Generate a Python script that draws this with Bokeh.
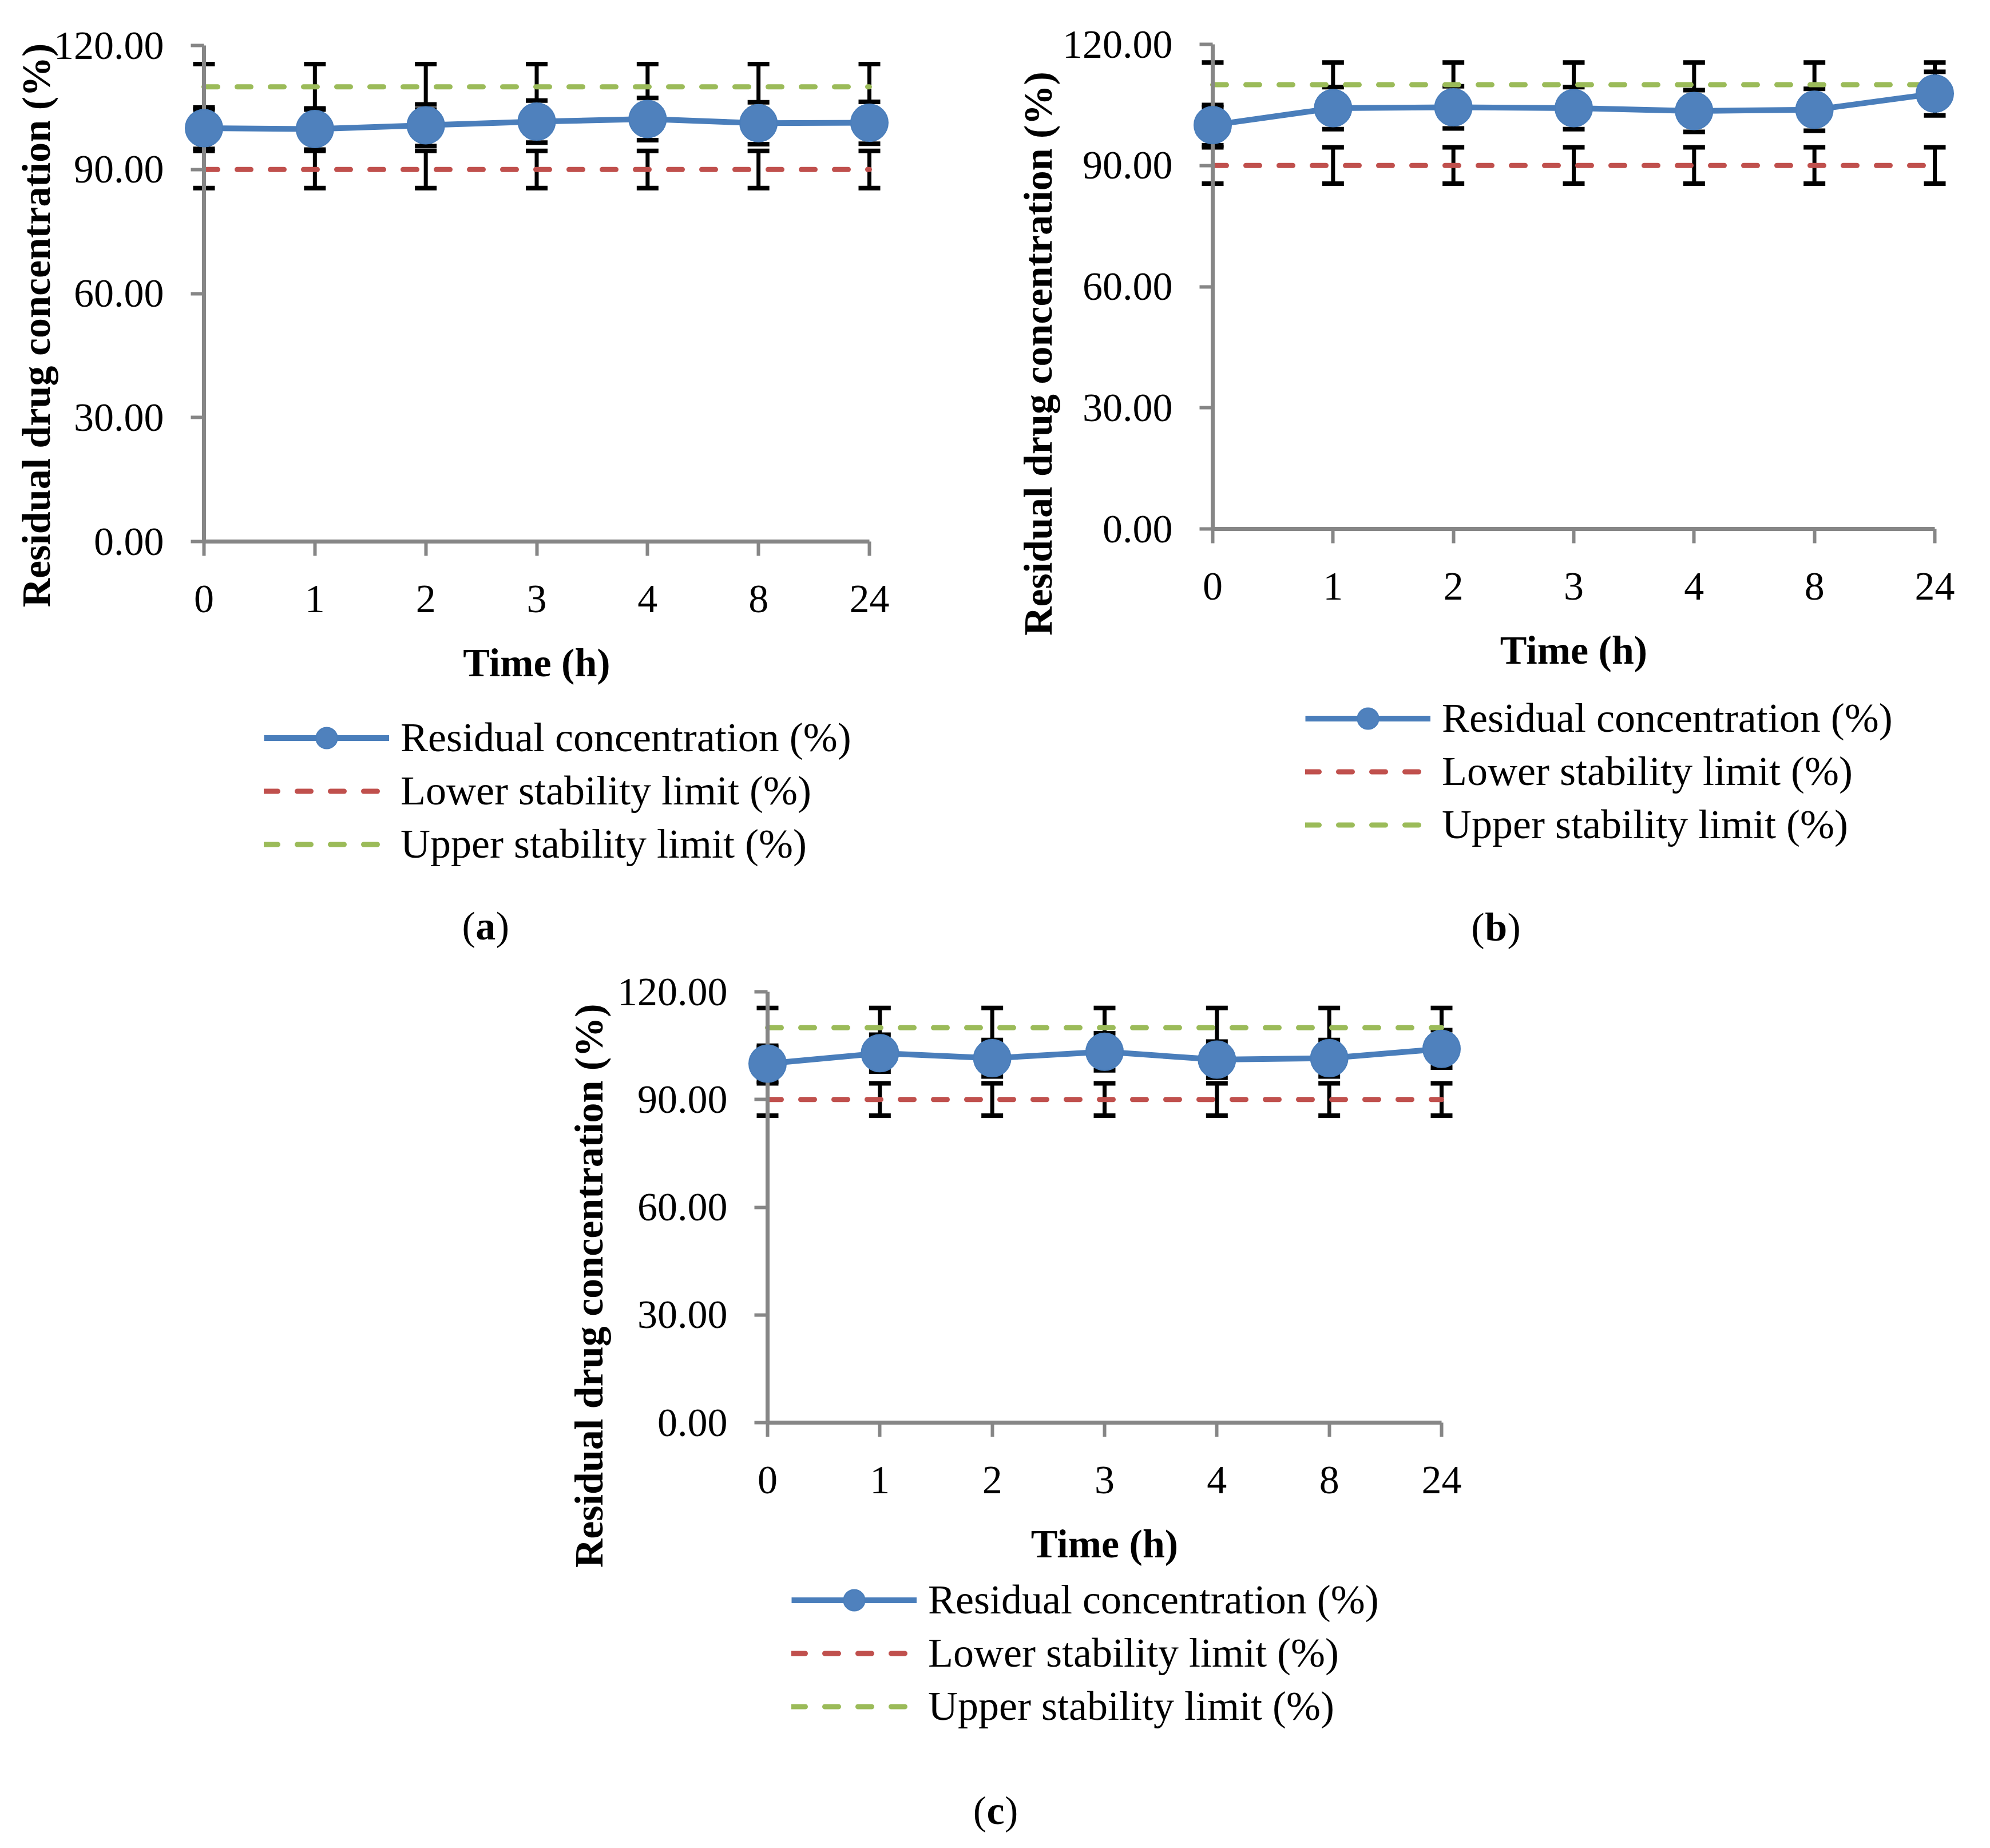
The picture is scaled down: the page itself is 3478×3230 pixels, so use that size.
import math
from bokeh.plotting import figure
from bokeh.models import (Range1d, FixedTicker, PrintfTickFormatter, Legend, LegendItem,
                          Label, Whisker, TeeHead, ColumnDataSource)
from bokeh.layouts import column, row
from bokeh.embed import file_html
from bokeh.resources import INLINE

# ---------------- data ----------------
TIME_LABELS = ["0", "1", "2", "3", "4", "8", "24"]
RESIDUAL_A = [100.0, 99.8, 100.7, 101.6, 102.2, 101.2, 101.3]
RESIDUAL_B = [100.0, 104.2, 104.4, 104.2, 103.5, 103.8, 107.8]
RESIDUAL_C = [100.0, 102.9, 101.5, 103.3, 101.1, 101.5, 104.1]
LOWER_LIMIT = [90, 90, 90, 90, 90, 90, 90]
UPPER_LIMIT = [110, 110, 110, 110, 110, 110, 110]
Y_TICKS = [0, 30, 60, 90, 120]
ERROR_PCT = 5.0
SERIES_NAMES = ["Residual concentration (%)", "Lower stability limit (%)",
                "Upper stability limit (%)"]
Y_TITLE = "Residual drug concentration (%)"
X_TITLE = "Time (h)"

# ---------------- style ----------------
FONT = "Liberation Serif"
FS = "70px"
LEGEND_FS = "72px"
BLUE = "#4F81BD"
BLUE_LINE = "#4A7EBB"
RED = "#C0504D"
GREEN = "#9BBB59"
GRAY = "#868686"


def make_panel(values, letter, letter_half, fig_box, axis_box,
               ytitle_xy, caption_xy, legend_loc):
    """fig_box: (left, top, width, height) of the figure on the page (px).
    axis_box: (x of first tick, x of last tick, y of top tick, y of zero) on the page (px)."""
    fl, ft, fw, fh = fig_box
    ax0, ax1, ytop, yzero = axis_box
    xs = list(range(len(TIME_LABELS)))
    n = xs[-1] - xs[0]
    ymax = Y_TICKS[-1]
    px_x = (ax1 - ax0) / n
    px_y = (yzero - ytop) / ymax
    x_start = xs[0] - (ax0 - fl) / px_x
    x_end = x_start + fw / px_x
    y_end = ymax + (ytop - ft) / px_y
    y_start = Y_TICKS[0] - (ft + fh - yzero) / px_y

    p = figure(frame_width=fw, frame_height=fh,
               min_border_left=0, min_border_right=0,
               min_border_top=0, min_border_bottom=0,
               x_range=Range1d(x_start, x_end), y_range=Range1d(y_start, y_end),
               output_backend="svg", toolbar_location=None,
               background_fill_color="white", border_fill_color="white")
    p.outline_line_color = None
    p.grid.visible = False

    # error bars (percentage) for every series
    for ser in (values, LOWER_LIMIT, UPPER_LIMIT):
        src = ColumnDataSource(dict(
            x=xs,
            lo=[v * (1 - ERROR_PCT / 100) for v in ser],
            hi=[v * (1 + ERROR_PCT / 100) for v in ser]))
        w = Whisker(source=src, base="x", lower="lo", upper="hi",
                    line_color="black", line_width=7, level="underlay",
                    upper_head=TeeHead(size=38, line_color="black", line_width=8),
                    lower_head=TeeHead(size=38, line_color="black", line_width=8))
        p.add_layout(w)

    r_low = p.line(xs, LOWER_LIMIT, line_color=RED, line_width=9,
                   line_dash="24 34", line_cap="round")
    r_up = p.line(xs, UPPER_LIMIT, line_color=GREEN, line_width=9,
                  line_dash="24 34", line_cap="round")
    r_line = p.line(xs, values, line_color=BLUE_LINE, line_width=10, level="annotation")
    r_pts = p.scatter(xs, values, size=65, fill_color=BLUE, line_color=BLUE_LINE,
                      line_width=2, level="annotation")

    # axes (drawn at the data origin)
    xa = p.xaxis[0]
    xa.fixed_location = Y_TICKS[0]
    xa.ticker = FixedTicker(ticks=xs)
    xa.major_label_overrides = {i: lab for i, lab in enumerate(TIME_LABELS)}
    xa.bounds = (xs[0], xs[-1])
    ya = p.yaxis[0]
    ya.fixed_location = xs[0]
    ya.bounds = (Y_TICKS[0], Y_TICKS[-1])
    ya.ticker = FixedTicker(ticks=Y_TICKS)
    ya.formatter = PrintfTickFormatter(format="%.2f")
    for ax in (xa, ya):
        ax.axis_line_color = GRAY
        ax.axis_line_width = 7
        ax.major_tick_line_color = GRAY
        ax.major_tick_line_width = 6
        ax.major_tick_in = 0
        ax.minor_tick_line_color = None
        ax.major_label_text_font = FONT
        ax.major_label_text_font_size = FS
        ax.major_label_text_color = "black"
    xa.major_tick_out = 25
    xa.major_label_standoff = 52
    xa.axis_label = X_TITLE
    xa.axis_label_text_font = FONT
    xa.axis_label_text_font_size = FS
    xa.axis_label_text_font_style = "bold"
    xa.axis_label_text_color = "black"
    xa.axis_label_standoff = 47
    ya.major_tick_out = 23
    ya.major_label_standoff = 47

    # y-axis title
    p.add_layout(Label(x=ytitle_xy[0], y=ytitle_xy[1], x_units="data", y_units="data",
                       text=Y_TITLE, angle=math.pi / 2, text_align="center",
                       text_baseline="middle", text_font=FONT, text_font_size=FS,
                       text_font_style="bold", text_color="black"))

    # legend
    legend = Legend(items=[LegendItem(label=SERIES_NAMES[0], renderers=[r_line, r_pts]),
                           LegendItem(label=SERIES_NAMES[1], renderers=[r_low]),
                           LegendItem(label=SERIES_NAMES[2], renderers=[r_up])],
                    location=legend_loc, orientation="vertical",
                    label_text_font=FONT, label_text_font_size=LEGEND_FS,
                    label_text_color="black",
                    glyph_width=219, glyph_height=93, label_height=93, spacing=0,
                    label_standoff=20, padding=0, margin=0,
                    border_line_color=None, background_fill_alpha=0)
    p.add_layout(legend)

    # caption "(x)" with bold letter
    cx, cy = caption_xy
    common = dict(x=cx, y=cy, x_units="data", y_units="data", text_font=FONT,
                  text_font_size=FS, text_baseline="alphabetic", text_color="black")
    p.add_layout(Label(text="(", text_align="right", x_offset=-letter_half, **common))
    p.add_layout(Label(text=letter, text_align="center", text_font_style="bold", **common))
    p.add_layout(Label(text=")", text_align="left", x_offset=letter_half, **common))
    return p


pa = make_panel(RESIDUAL_A, "a", 18, (8, 8, 1740, 1682), (364, 1527, 87, 954),
                (-1.514, 52.3), (2.54, -93.0), (461, 160))
pb = make_panel(RESIDUAL_B, "b", 20, (1748, 8, 1722, 1682), (2127, 3389, 85, 932),
                (-1.45, 43.4), (2.354, -98.6), (541, 194))
pc = make_panel(RESIDUAL_C, "c", 16, (8, 1690, 3462, 1532), (1349, 2527, 1741, 2494),
                (-1.59, 38.1), (2.03, -108.0), (1383, 185))

layout = column(row(pa, pb), pc)
open("out.html", "w").write(file_html(layout, INLINE))
